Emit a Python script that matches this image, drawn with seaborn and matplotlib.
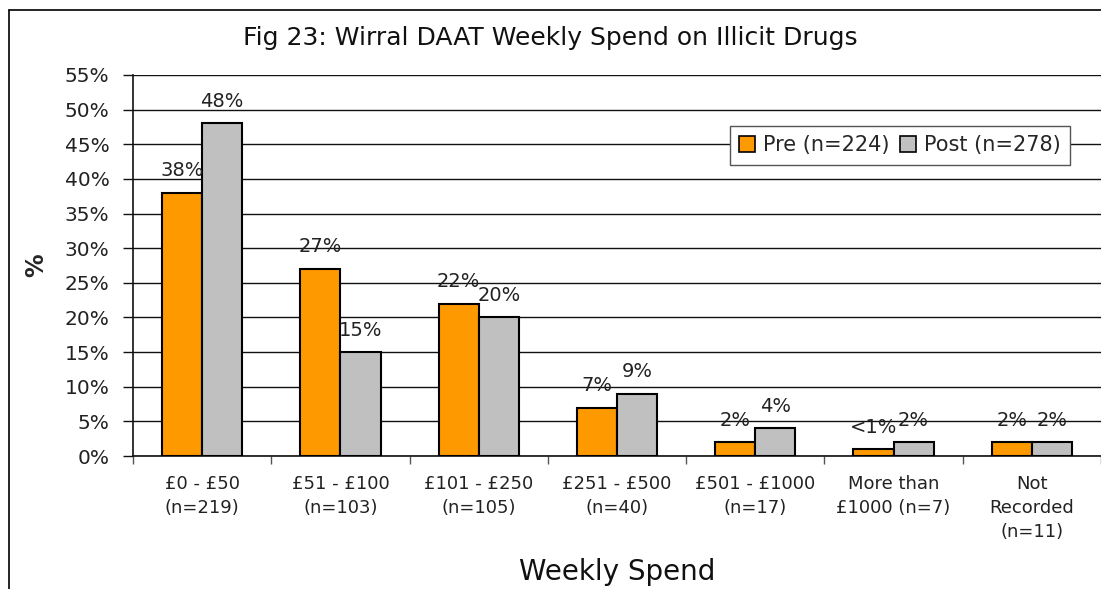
import matplotlib
matplotlib.use("Agg")
import matplotlib.pyplot as plt
from matplotlib.patches import Patch
from matplotlib.lines import Line2D
import seaborn as sns
import pandas as pd

categories = ["£0 - £50\n(n=219)", "£51 - £100\n(n=103)", "£101 - £250\n(n=105)",
              "£251 - £500\n(n=40)", "£501 - £1000\n(n=17)", "More than\n£1000 (n=7)",
              "Not\nRecorded\n(n=11)"]
pre_values = [38, 27, 22, 7, 2, 1, 2]
post_values = [48, 15, 20, 9, 4, 2, 2]
pre_labels = ["38%", "27%", "22%", "7%", "2%", "<1%", "2%"]
post_labels = ["48%", "15%", "20%", "9%", "4%", "2%", "2%"]
series_names = ["Pre (n=224)", "Post (n=278)"]
yticks = list(range(0, 56, 5))

df = pd.DataFrame({
    "cat": categories * 2,
    "val": pre_values + post_values,
    "series": [series_names[0]] * len(categories) + [series_names[1]] * len(categories),
})

sns.set_theme(style="white")
plt.rcParams["font.family"] = ["DejaVu Sans"]

W, H = 1101, 589
fig = plt.figure(figsize=(W / 100, H / 100), dpi=100)
ax = fig.add_axes([133 / W, 1 - 456 / H, (W - 133) / W, (456 - 75) / H])

colors = {series_names[0]: "#FF9900", series_names[1]: "#C0C0C0"}
sns.barplot(data=df, x="cat", y="val", hue="series", order=categories,
            hue_order=series_names, palette=colors, saturation=1, width=0.58, gap=0,
            edgecolor="black", linewidth=1.5, ax=ax, legend=False, zorder=3)

for cont, labs in zip(ax.containers, [pre_labels, post_labels]):
    ax.bar_label(cont, labels=labs, padding=9, fontsize=14, color="#222222")

ax.set_ylim(0, 55)
ax.set_xlim(-0.5, len(categories) - 0.5)
ax.set_yticks(yticks)
ax.set_yticklabels([f"{v}%" for v in yticks], fontsize=14.5, color="#222222")
ax.yaxis.grid(True, color="#111111", linewidth=1)
ax.set_axisbelow(True)
for s in ["top", "right"]:
    ax.spines[s].set_visible(False)
for s in ["left", "bottom"]:
    ax.spines[s].set_color("#111111")
    ax.spines[s].set_linewidth(1.2)
ax.tick_params(axis="y", which="major", length=7, width=1, color="#111111",
               direction="out", left=True, pad=10)
ax.set_xticks(range(len(categories)))
ax.set_xticklabels(categories, fontsize=13, color="#222222", linespacing=1.4, va="top")
ax.set_xticks([i - 0.5 for i in range(len(categories) + 1)], minor=True)
ax.tick_params(axis="x", which="major", length=0, pad=14)
ax.tick_params(axis="x", which="minor", length=6, width=1, color="#555555",
               direction="out", bottom=True)

ax.set_ylabel("%", fontsize=17, fontweight="bold", rotation=90)
ax.yaxis.set_label_coords((48 - 133) / (W - 133), 0.5)
ax.set_xlabel("Weekly Spend", fontsize=20, va="center", color="#111111")
ax.xaxis.set_label_coords(0.5, -(572 - 456) / (456 - 75))

fig.text(550 / W, 1 - 38 / H, "Fig 23: Wirral DAAT Weekly Spend on Illicit Drugs",
         ha="center", va="center", fontsize=18, color="#111111")

handles = [Patch(facecolor=colors[n], edgecolor="black", linewidth=1.2) for n in series_names]
leg = ax.legend(handles, series_names, loc="upper left",
                bbox_to_anchor=(730 / W, 1 - 126 / H), bbox_transform=fig.transFigure,
                ncol=2, fontsize=15, frameon=True, fancybox=False, framealpha=1,
                edgecolor="#555555", handlelength=0.75, handleheight=0.75,
                handletextpad=0.4, columnspacing=0.5, borderpad=0.45, borderaxespad=0)
leg.get_frame().set_linewidth(1)
leg.set_zorder(5)

# outer chart border
fig.add_artist(Line2D([9 / W, 1], [1 - 10 / H, 1 - 10 / H], transform=fig.transFigure,
                      color="black", linewidth=1.2))
fig.add_artist(Line2D([9 / W, 9 / W], [1 - 10 / H, 0], transform=fig.transFigure,
                      color="black", linewidth=1.2))

fig.savefig("out.png", dpi=100, facecolor="white")
